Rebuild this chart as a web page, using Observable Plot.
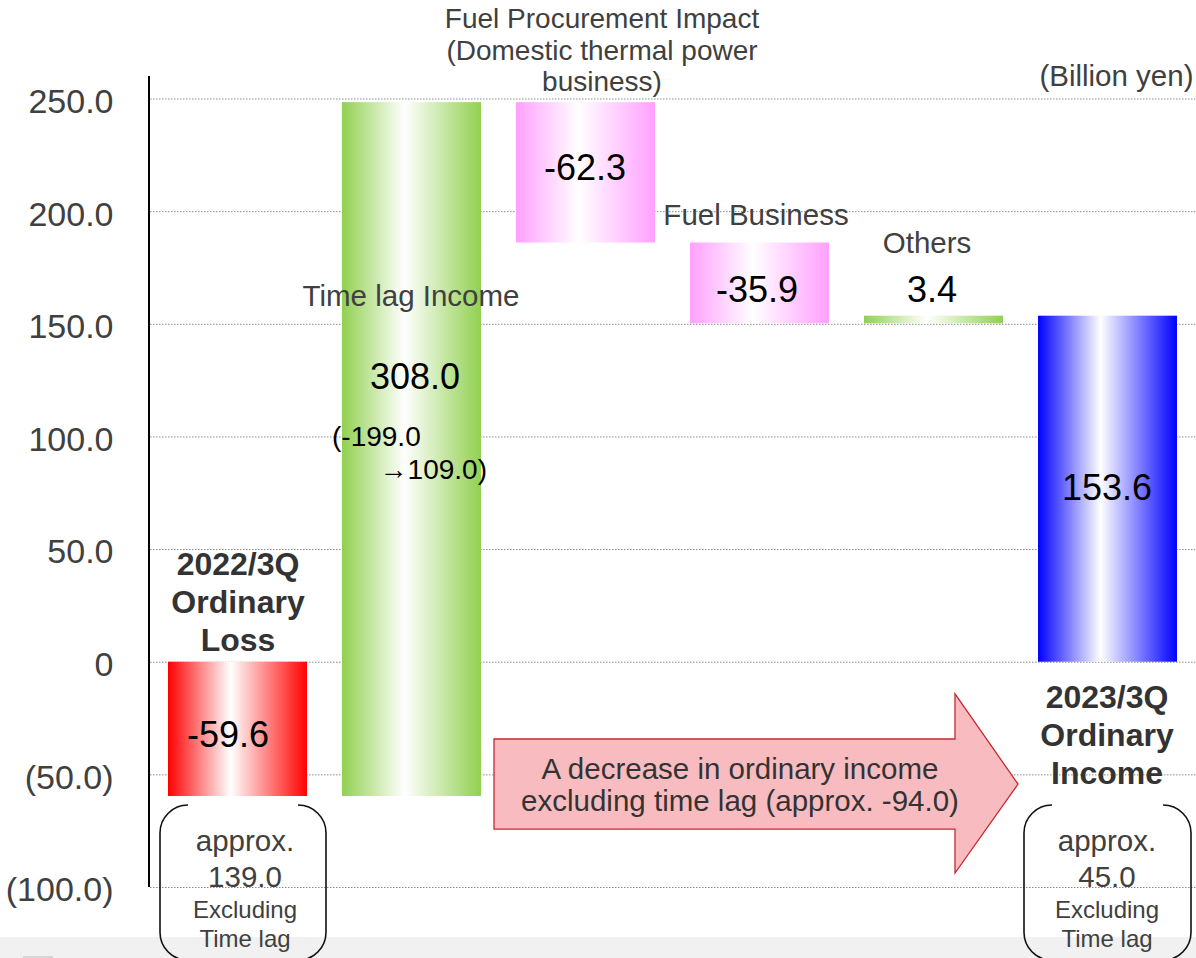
<!DOCTYPE html>
<html>
<head>
<meta charset="utf-8">
<script src="https://cdn.jsdelivr.net/npm/d3@7"></script>
<script src="https://cdn.jsdelivr.net/npm/@observablehq/plot@0.6"></script>
<style>
  html, body { margin: 0; padding: 0; background: #fff; }
  #chart svg { display: block; }
</style>
</head>
<body>
<div id="chart"></div>
<script>
// ---------- data ----------
const categories = ["2022/3Q Ordinary Loss", "Time lag Income", "Fuel Procurement Impact", "Fuel Business", "Others", "2023/3Q Ordinary Income"];
const changes = [-59.6, 308.0, -62.3, -35.9, 3.4, 153.6];
const barKinds = ["total", "delta", "delta", "delta", "delta", "total"];
const headings = ["2022/3Q\nOrdinary\nLoss", "Time lag Income", "Fuel Procurement Impact\n(Domestic thermal power\nbusiness)", "Fuel Business", "Others", "2023/3Q\nOrdinary\nIncome"];
const timeLagDetail = ["(-199.0", "\u2192109.0)"];
const excludingTimeLag = [139.0, 45.0];
const excludingNote = "Excluding\nTime lag";
const arrowNote = "A decrease in ordinary income\nexcluding time lag (approx. -94.0)";
const yTicks = [-100, -50, 0, 50, 100, 150, 200, 250];
const unitLabel = "(Billion yen)";
const palette = ["#ff0000", "#92d050", "#ffa0ff", "#ffa0ff", "#92d050", "#0000ff"];

// ---------- waterfall geometry from values ----------
const starts = [], ends = [];
let run = 0;
changes.forEach((v, i) => {
  if (barKinds[i] === "total") { starts.push(0); ends.push(v); run = v; }
  else { starts.push(run); run += v; ends.push(run); }
});

const fmtTick = d => d === 0 ? "0" : d < 0 ? `(${(-d).toFixed(1)})` : d.toFixed(1);
const bwOf = x => typeof x.bandwidth === "function" ? x.bandwidth() : x.bandwidth;

// background: gradients + grey footer strip
function background(index, scales, values, dim) {
  const g = d3.create("svg:g");
  const defs = g.append("defs");
  palette.forEach((c, i) => {
    const lg = defs.append("linearGradient").attr("id", `grad${i}`)
      .attr("x1", 0).attr("x2", 1).attr("y1", 0).attr("y2", 0);
    lg.append("stop").attr("offset", 0).attr("stop-color", c);
    lg.append("stop").attr("offset", 0.45).attr("stop-color", "#ffffff");
    lg.append("stop").attr("offset", 1).attr("stop-color", c);
  });
  g.append("rect").attr("x", 0).attr("y", dim.height - 21)
    .attr("width", dim.width).attr("height", 21).attr("fill", "#f1f1f1");
  g.append("rect").attr("x", 23).attr("y", dim.height - 2)
    .attr("width", 30).attr("height", 2).attr("fill", "#d6d6d6");
  return g.node();
}

// axis line, arrow and bracket boxes
function overlay(index, scales, values, dim) {
  const x = scales.x, y = scales.y, bw = bwOf(x);
  const g = d3.create("svg:g");
  // vertical axis line
  g.append("line")
    .attr("x1", dim.marginLeft - 1).attr("x2", dim.marginLeft - 1)
    .attr("y1", y(260)).attr("y2", y(-100))
    .attr("stroke", "#000").attr("stroke-width", 2);
  // arrow
  const left = x(categories[2]) - 22;
  const tip = x(categories[5]) - 20;
  const base = tip - 63;
  const bt = y(-34.3), bb = y(-74.3), ht = y(-14.3), hb = y(-93.8), mid = y(-54.3);
  g.append("path")
    .attr("d", `M${left},${bt}L${base},${bt}L${base},${ht}L${tip},${mid}L${base},${hb}L${base},${bb}L${left},${bb}Z`)
    .attr("fill", "#f8bcc0").attr("stroke", "#c8282e").attr("stroke-width", 1.3);
  // bracket-pair boxes
  const r = 28, t = y(-63.6), b = y(-132.5);
  const boxes = [
    [x(categories[0]) - 8, x(categories[0]) + bw + 19],
    [x(categories[5]) - 14, x(categories[5]) + bw + 14]
  ];
  boxes.forEach(([x0, x1]) => {
    g.append("path")
      .attr("d", `M${x0 + r},${t}A${r},${r} 0 0 0 ${x0},${t + r}L${x0},${b - r}A${r},${r} 0 0 0 ${x0 + r},${b}` +
                 `M${x1 - r},${t}A${r},${r} 0 0 1 ${x1},${t + r}L${x1},${b - r}A${r},${r} 0 0 1 ${x1 - r},${b}`)
      .attr("fill", "none").attr("stroke", "#111").attr("stroke-width", 1.6);
  });
  return g.node();
}

const txt = (i, s, yv, o = {}) =>
  Plot.text([s], {x: () => categories[i], y: () => yv, text: d => d, lineAnchor: "middle", ...o});

const GRAY = "#404040";
const LBL = 29.5;
const barMarks = categories.map((c, i) =>
  Plot.barY([i], {x: k => categories[k], y1: k => starts[k], y2: k => ends[k], fill: `url(#grad${i})`})
);

const chart = Plot.plot({
  width: 1196,
  height: 958,
  marginLeft: 150,
  marginRight: 0,
  marginTop: 76,
  marginBottom: 71,
  x: {domain: categories, paddingInner: 0.2, paddingOuter: 0.1, axis: null},
  y: {domain: [-100, 260], axis: null},
  style: {fontFamily: "'Liberation Sans', Arial, sans-serif", background: "white", color: GRAY, overflow: "visible"},
  marks: [
    background,
    Plot.ruleY(yTicks, {stroke: "#8a8a8a", strokeWidth: 1, strokeDasharray: "1.5,1.5"}),
    ...barMarks,
    overlay,
    // y tick labels
    Plot.text(yTicks, {y: d => d, text: fmtTick, frameAnchor: "left", textAnchor: "end", dx: -37, dy: 3, fontSize: 34, fill: GRAY}),
    // unit
    Plot.text([unitLabel], {frameAnchor: "top-right", text: d => d, textAnchor: "end", lineAnchor: "middle", dx: -3, fontSize: LBL, fill: GRAY}),
    // headings
    txt(0, headings[0], 27.4, {fontSize: 32, fontWeight: "bold", fill: "#333", lineHeight: 1.19}),
    txt(1, headings[1], 162.3, {fontSize: LBL, fill: GRAY, dx: -1}),
    txt(2, headings[2], 272, {fontSize: 28, fill: GRAY, dx: 16, lineHeight: 1.12}),
    txt(3, headings[3], 198.3, {fontSize: LBL, fill: GRAY, dx: -4}),
    txt(4, headings[4], 185.8, {fontSize: LBL, fill: GRAY, dx: -7}),
    txt(5, headings[5], -31.6, {fontSize: 32, fontWeight: "bold", fill: "#333", lineHeight: 1.19, dx: -1}),
    // value labels
    txt(0, changes[0].toFixed(1), -32.5, {fontSize: 36, fill: "#000", dx: -10}),
    txt(1, changes[1].toFixed(1), 126.4, {fontSize: 36, fill: "#000", dx: 3}),
    txt(2, changes[2].toFixed(1), 219.1, {fontSize: 36, fill: "#000", dx: -1}),
    txt(3, changes[3].toFixed(1), 165, {fontSize: 36, fill: "#000", dx: -3}),
    txt(4, changes[4].toFixed(1), 165, {fontSize: 36, fill: "#000", dx: -2}),
    txt(5, changes[5].toFixed(1), 77.1, {fontSize: 36, fill: "#000", dx: -1}),
    // time lag detail
    txt(1, timeLagDetail[0], 99.8, {fontSize: 28, fill: "#000", textAnchor: "start", dx: -80}),
    txt(1, timeLagDetail[1], 85.5, {fontSize: 28, fill: "#000", textAnchor: "end", dx: 75}),
    // arrow note
    txt(3, arrowNote, -54.3, {fontSize: LBL, fill: "#333", dx: -20, lineHeight: 1.1}),
    // excluding time lag boxes
    txt(0, `approx.\n${excludingTimeLag[0].toFixed(1)}`, -86.8, {fontSize: LBL, fill: GRAY, dx: 7, lineHeight: 1.2}),
    txt(0, excludingNote, -116, {fontSize: 24, fill: GRAY, dx: 7, lineHeight: 1.17}),
    txt(5, `approx.\n${excludingTimeLag[1].toFixed(1)}`, -86.8, {fontSize: LBL, fill: GRAY, dx: -1, lineHeight: 1.2}),
    txt(5, excludingNote, -116, {fontSize: 24, fill: GRAY, dx: -1, lineHeight: 1.17})
  ]
});

document.getElementById("chart").appendChild(chart);
</script>
</body>
</html>
